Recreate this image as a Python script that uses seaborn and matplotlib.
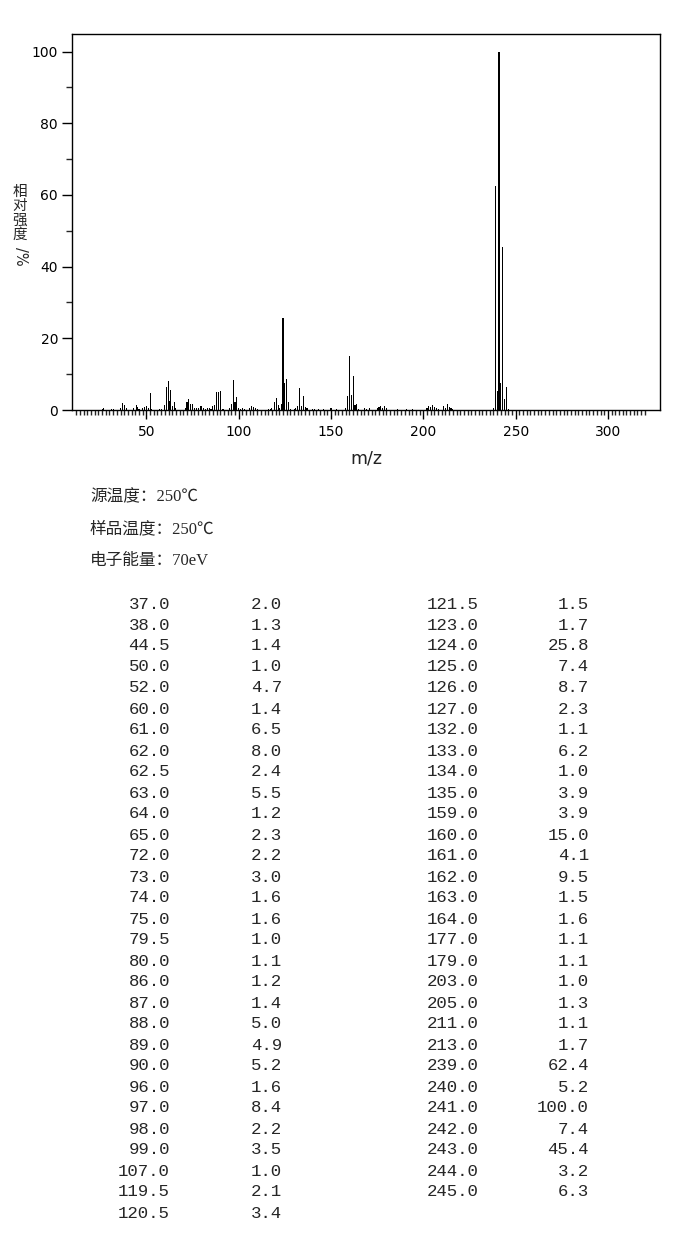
import numpy as np
import pandas as pd
import matplotlib
matplotlib.use("Agg")
import matplotlib.pyplot as plt
import seaborn as sns

# peaks listed in the table (m/z, relative intensity %)
mz_peaks = [37.0, 38.0, 44.5, 50.0, 52.0, 60.0, 61.0, 62.0, 62.5, 63.0,
            64.0, 65.0, 72.0, 73.0, 74.0, 75.0, 79.5, 80.0, 86.0, 87.0,
            88.0, 89.0, 90.0, 96.0, 97.0, 98.0, 99.0, 107.0, 119.5, 120.5,
            121.5, 123.0, 124.0, 125.0, 126.0, 127.0, 132.0, 133.0, 134.0, 135.0,
            159.0, 160.0, 161.0, 162.0, 163.0, 164.0, 177.0, 179.0, 203.0, 205.0,
            211.0, 213.0, 239.0, 240.0, 241.0, 242.0, 243.0, 244.0, 245.0]
intensity_peaks = [2.0, 1.3, 1.4, 1.0, 4.7, 1.4, 6.5, 8.0, 2.4, 5.5,
                   1.2, 2.3, 2.2, 3.0, 1.6, 1.6, 1.0, 1.1, 1.2, 1.4,
                   5.0, 4.9, 5.2, 1.6, 8.4, 2.2, 3.5, 1.0, 2.1, 3.4,
                   1.5, 1.7, 25.8, 7.4, 8.7, 2.3, 1.1, 6.2, 1.0, 3.9,
                   3.9, 15.0, 4.1, 9.5, 1.5, 1.6, 1.1, 1.1, 1.0, 1.3,
                   1.1, 1.7, 62.4, 5.2, 100.0, 7.4, 45.4, 3.2, 6.3]

# small peaks (< 1 %) seen only in the spectrum, estimated
mz_minor = [26, 27, 31, 32, 36, 39, 43, 45, 46, 48, 49, 51, 53, 57, 58,
            66, 71, 76, 77, 78, 81, 82, 83, 84, 85, 91, 92, 95, 100, 101,
            102, 103, 106, 108, 109, 110, 116, 117, 118, 122, 128, 130, 131,
            136, 137, 140, 141, 143, 146, 150, 153, 158, 165, 168, 169, 171,
            175, 176, 178, 180, 186, 191, 194, 202, 204, 206, 207, 208, 212,
            214, 215, 216, 238, 246]
intensity_minor = [0.4, 0.5, 0.4, 0.3, 0.5, 0.6, 0.5, 0.8, 0.4, 0.5, 0.8, 0.6, 0.4, 0.4, 0.4,
                   0.5, 0.5, 0.6, 0.5, 0.5, 0.6, 0.4, 0.5, 0.5, 0.4, 0.4, 0.4, 0.6, 0.5, 0.4,
                   0.5, 0.4, 0.5, 0.8, 0.5, 0.4, 0.4, 0.4, 0.5, 0.6, 0.4, 0.4, 0.6,
                   0.8, 0.6, 0.4, 0.4, 0.4, 0.3, 0.5, 0.4, 0.6, 0.4, 0.6, 0.4, 0.6,
                   0.5, 0.8, 0.5, 0.5, 0.3, 0.4, 0.4, 0.5, 0.7, 0.7, 0.5, 0.4, 0.6,
                   0.8, 0.5, 0.4, 0.6, 0.4]

info_lines = ["源温度：250℃", "样品温度：250℃", "电子能量：70eV"]
ylabel_chars = ["相", "对", "强", "度"]

df = pd.DataFrame({"mz": mz_peaks + [float(m) for m in mz_minor],
                   "intensity": intensity_peaks + intensity_minor})

sns.set_style("white")
plt.rcParams["font.family"] = ["DejaVu Sans", "Noto Sans CJK SC"]

W, H = 696, 1247
fig = plt.figure(figsize=(W / 100, H / 100), dpi=100)
ax = fig.add_axes([72 / W, 1 - 410 / H, (660 - 72) / W, (410 - 34) / H])

sns.barplot(data=df, x="mz", y="intensity", native_scale=True, width=1.2,
            color="black", linewidth=0, errorbar=None, antialiased=False, ax=ax)

ax.set_xlim(9.7, 328.2)
ax.set_ylim(0, 104.9)
ax.set_xticks([50, 100, 150, 200, 250, 300])
ax.set_xticks(np.arange(12, 321, 2), minor=True)
ax.set_yticks([0, 20, 40, 60, 80, 100])
ax.set_yticks([10, 30, 50, 70, 90], minor=True)
ax.tick_params(axis="x", which="major", direction="out", length=6.5, width=1,
               pad=4, labelsize=10, colors="black")
ax.tick_params(axis="x", which="minor", direction="out", length=3.8, width=1)
ax.tick_params(axis="y", which="major", direction="out", length=7, width=1,
               pad=3, labelsize=10, colors="black")
ax.tick_params(axis="y", which="minor", direction="out", length=4.3, width=1)
ax.tick_params(bottom=True, left=True, which="both")
for side in ax.spines.values():
    side.set_color("black")
    side.set_linewidth(1)
ax.set_xlabel("")
ax.set_ylabel("")

def fy(py):
    return 1 - py / H

fig.text(366 / W, fy(458), "m/z", ha="center", va="center", fontsize=12.5,
         color="#222222")
# vertical y label: stacked characters, then "/%" turned sideways
for i, ch in enumerate(ylabel_chars):
    fig.text(20 / W, fy(192 + 14.3 * i), ch, ha="center", va="center",
             fontsize=10.5, family=["Noto Sans CJK SC"])
fig.text(20 / W, fy(256), "/%", ha="center", va="center", rotation=-90,
         fontsize=10.5, family=["DejaVu Sans"])

for i, line in enumerate(info_lines):
    fig.text(90 / W, fy(497 + 32 * i), line, ha="left", va="center",
             fontsize=12, family=["Liberation Serif", "Noto Sans CJK SC"])

# peak table, two blocks of columns
n_left = 30
for i, (m, v) in enumerate(zip(mz_peaks, intensity_peaks)):
    if i < n_left:
        row, xm, xv = i, 170, 282
    else:
        row, xm, xv = i - n_left, 479, 589
    y = fy(604 + 21 * row)
    fig.text(xm / W, y, f"{m:.1f}", ha="right", va="center",
             fontsize=12.5, family="Liberation Mono")
    fig.text(xv / W, y, f"{v:.1f}", ha="right", va="center",
             fontsize=12.5, family="Liberation Mono")

fig.savefig("out.png", dpi=100)
